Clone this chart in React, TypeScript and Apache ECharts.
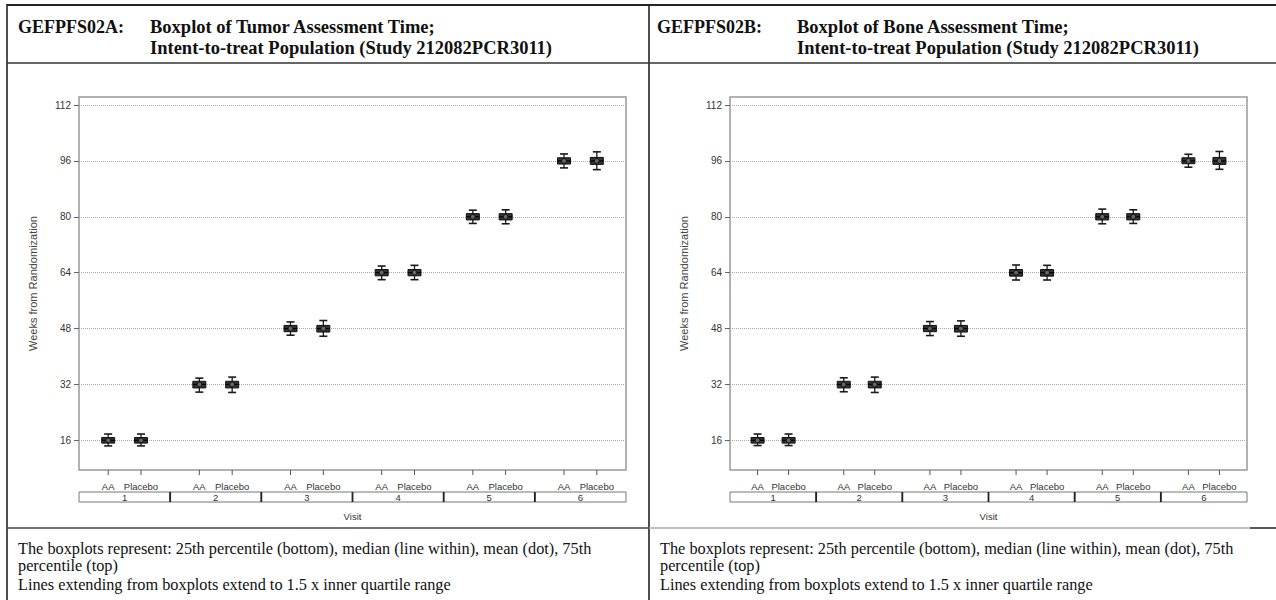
import React, { useEffect, useRef } from 'react';
import * as echarts from 'echarts';

const visits = ['1', '2', '3', '4', '5', '6'];
const arms = ['AA', 'Placebo'];
const yTicks = [16, 32, 48, 64, 80, 96, 112];

// [min whisker, Q1, median, Q3, max whisker, mean]
const tumorAA = [
  [14.4, 15.2, 16.0, 16.8, 17.8, 16.0],
  [29.8, 31.0, 32.0, 32.9, 33.8, 32.0],
  [46.1, 47.1, 48.0, 48.9, 49.9, 48.0],
  [62.0, 63.1, 64.0, 64.9, 65.9, 64.0],
  [78.1, 79.1, 80.0, 80.9, 81.9, 80.0],
  [94.0, 95.1, 96.0, 96.9, 98.0, 96.0],
];
const tumorPlacebo = [
  [14.4, 15.2, 16.0, 16.8, 17.8, 16.0],
  [29.7, 31.0, 32.0, 32.9, 34.1, 32.0],
  [45.8, 47.0, 48.0, 48.9, 50.3, 48.0],
  [62.0, 63.1, 64.0, 64.9, 66.1, 64.0],
  [78.0, 79.1, 80.0, 80.9, 82.0, 80.0],
  [93.5, 95.0, 96.0, 97.0, 98.6, 96.0],
];
const boneAA = [
  [14.5, 15.2, 16.0, 16.8, 17.8, 16.0],
  [29.9, 31.0, 32.0, 32.9, 33.9, 32.0],
  [46.0, 47.1, 48.0, 48.9, 50.0, 48.0],
  [61.9, 63.0, 64.0, 64.9, 66.2, 64.0],
  [78.0, 79.1, 80.0, 80.9, 82.2, 80.0],
  [94.2, 95.2, 96.0, 96.9, 97.9, 96.0],
];
const bonePlacebo = [
  [14.5, 15.2, 16.0, 16.8, 17.8, 16.0],
  [29.7, 31.0, 32.0, 32.9, 34.1, 32.0],
  [45.8, 47.0, 48.0, 48.9, 50.2, 48.0],
  [61.9, 63.0, 64.0, 64.9, 66.1, 64.0],
  [78.1, 79.1, 80.0, 80.9, 82.0, 80.0],
  [93.6, 95.0, 96.0, 97.0, 98.7, 96.0],
];

const armOffsets = [-0.18, 0.18];

const headers = [
  { code: 'GEFPFS02A:', line1: 'Boxplot of Tumor Assessment Time;', line2: 'Intent-to-treat Population (Study 212082PCR3011)', x: 18, tx: 150 },
  { code: 'GEFPFS02B:', line1: 'Boxplot of Bone Assessment Time;', line2: 'Intent-to-treat Population (Study 212082PCR3011)', x: 657, tx: 797 },
];
const footLines = [
  'The boxplots represent: 25th percentile (bottom), median (line within), mean (dot), 75th',
  'percentile (top)',
  'Lines extending from boxplots extend to 1.5 x inner quartile range',
];

const SANS = '"Liberation Sans", Arial, sans-serif';
const SERIF = '"Liberation Serif", "Times New Roman", serif';

function boxSeries(name: string, data: number[][], g: number, off: number) {
  return {
    type: 'custom',
    name,
    xAxisIndex: g,
    yAxisIndex: g,
    z: 10,
    silent: true,
    data: data.map((d, i) => [i, ...d]),
    encode: { x: 0, y: [1, 2, 3, 4, 5, 6] },
    renderItem: (params: any, api: any) => {
      const i = api.value(0);
      const band = api.size([1, 0])[0];
      const cx = api.coord([i, api.value(3)])[0] + off * band;
      const y = (k: number) => api.coord([i, api.value(k)])[1];
      const yMin = y(1), yQ1 = y(2), yMed = y(3), yQ3 = y(4), yMax = y(5), yMean = y(6);
      const bw = 13, cw = 8;
      const ln = { stroke: '#1a1a1a', lineWidth: 1.3 };
      return {
        type: 'group',
        children: [
          { type: 'line', shape: { x1: cx, y1: yMax, x2: cx, y2: yQ3 }, style: ln },
          { type: 'line', shape: { x1: cx, y1: yQ1, x2: cx, y2: yMin }, style: ln },
          { type: 'line', shape: { x1: cx - cw / 2, y1: yMax, x2: cx + cw / 2, y2: yMax }, style: { stroke: '#1a1a1a', lineWidth: 1.6 } },
          { type: 'line', shape: { x1: cx - cw / 2, y1: yMin, x2: cx + cw / 2, y2: yMin }, style: { stroke: '#1a1a1a', lineWidth: 1.6 } },
          { type: 'rect', shape: { x: cx - bw / 2, y: yQ3, width: bw, height: yQ1 - yQ3 }, style: { fill: '#333', stroke: '#111', lineWidth: 1 } },
          { type: 'line', shape: { x1: cx - bw / 2, y1: yMed, x2: cx + bw / 2, y2: yMed }, style: { stroke: '#000', lineWidth: 1.2 } },
          { type: 'circle', shape: { cx, cy: yMean, r: 2.4 }, style: { fill: '#666', stroke: '#111', lineWidth: 1 } },
        ],
      };
    },
  };
}

function rowSeries(g: number) {
  return {
    type: 'custom',
    xAxisIndex: g,
    yAxisIndex: g,
    silent: true,
    z: 5,
    data: visits.map((v, i) => [i, 16]),
    encode: { x: 0, y: 1 },
    renderItem: (params: any, api: any) => {
      const i = api.value(0);
      const band = api.size([1, 0])[0];
      const cx = api.coord([i, 16])[0];
      const cs = params.coordSys;
      const bottom = cs.y + cs.height;
      const children: any[] = [];
      arms.forEach((a, k) => {
        const x = cx + armOffsets[k] * band;
        children.push({ type: 'line', shape: { x1: x, y1: bottom, x2: x, y2: bottom + 5 }, style: { stroke: '#555', lineWidth: 1 } });
        children.push({
          type: 'text',
          style: { text: a, x, y: bottom + 16, textAlign: 'center', textVerticalAlign: 'middle', font: `9.5px ${SANS}`, fill: '#333' },
        });
      });
      const top = bottom + 22;
      const h = 10;
      children.push({ type: 'rect', shape: { x: cx - band / 2, y: top, width: band, height: h }, style: { fill: 'none', stroke: '#777', lineWidth: 1 } });
      if (i > 0) {
        children.push({ type: 'line', shape: { x1: cx - band / 2, y1: top, x2: cx - band / 2, y2: top + h }, style: { stroke: '#222', lineWidth: 1.8 } });
      }
      children.push({
        type: 'text',
        style: { text: visits[i], x: cx, y: top + h / 2 + 0.5, textAlign: 'center', textVerticalAlign: 'middle', font: `9.5px ${SANS}`, fill: '#333' },
      });
      return { type: 'group', children };
    },
  };
}

function makeAxes(g: number) {
  return {
    x: {
      type: 'category',
      gridIndex: g,
      data: visits,
      axisLine: { show: false },
      axisTick: { show: false },
      axisLabel: { show: false },
      splitLine: { show: false },
      name: 'Visit',
      nameLocation: 'middle',
      nameGap: 41,
      nameTextStyle: { fontSize: 9.5, color: '#333', fontFamily: SANS },
    },
    y: {
      type: 'value',
      gridIndex: g,
      min: 7.5,
      max: 114.3,
      axisLine: { show: false },
      axisTick: { show: true, length: 5, lineStyle: { color: '#666' }, customValues: yTicks },
      axisLabel: { customValues: yTicks, fontSize: 10, color: '#333', fontFamily: SANS, margin: 8 },
      splitLine: { show: true, lineStyle: { type: 'dotted', color: '#aaa', width: 1 } },
      name: 'Weeks from Randomization',
      nameLocation: 'middle',
      nameGap: 41,
      nameTextStyle: { fontSize: 11, color: '#444', fontFamily: SANS },
    },
  };
}

export default function App() {
  const ref = useRef<HTMLDivElement>(null);
  useEffect(() => {
    if (!ref.current) return;
    const chart = echarts.init(ref.current, undefined, { renderer: 'svg' });
    const a0 = makeAxes(0);
    const a1 = makeAxes(1);
    const graphic: any[] = [
      { type: 'line', shape: { x1: 7, y1: 5, x2: 1276, y2: 5 }, style: { stroke: '#222', lineWidth: 2.2 } },
      { type: 'line', shape: { x1: 7, y1: 4, x2: 7, y2: 600 }, style: { stroke: '#222', lineWidth: 1.6 } },
      { type: 'line', shape: { x1: 649, y1: 4, x2: 649, y2: 600 }, style: { stroke: '#222', lineWidth: 1.6 } },
      { type: 'line', shape: { x1: 7, y1: 63, x2: 1276, y2: 63 }, style: { stroke: '#333', lineWidth: 1.5 } },
      { type: 'line', shape: { x1: 7, y1: 528, x2: 649, y2: 528 }, style: { stroke: '#444', lineWidth: 1.5 } },
      { type: 'line', shape: { x1: 649, y1: 528, x2: 1250, y2: 528 }, style: { stroke: '#aaa', lineWidth: 1.5 } },
      { type: 'line', shape: { x1: 1250, y1: 528, x2: 1276, y2: 528 }, style: { stroke: '#222', lineWidth: 1.5 } },
    ];
    headers.forEach((h) => {
      graphic.push({ type: 'text', style: { text: h.code, x: h.x, y: 27, textVerticalAlign: 'middle', font: `bold 18px ${SERIF}`, fill: '#111' } });
      graphic.push({ type: 'text', style: { text: h.line1, x: h.tx, y: 27, textVerticalAlign: 'middle', font: `bold 18.5px ${SERIF}`, fill: '#111' } });
      graphic.push({ type: 'text', style: { text: h.line2, x: h.tx, y: 48, textVerticalAlign: 'middle', font: `bold 18.5px ${SERIF}`, fill: '#111' } });
    });
    [18, 660].forEach((fx) => {
      const ys = [548, 565, 584];
      footLines.forEach((t, k) => {
        graphic.push({ type: 'text', style: { text: t, x: fx, y: ys[k], textVerticalAlign: 'middle', font: `16.3px ${SERIF}`, fill: '#111' } });
      });
    });

    chart.setOption({
      animation: false,
      backgroundColor: '#fff',
      grid: [
        { left: 79, top: 97, width: 547, height: 373, show: true, borderColor: '#999', borderWidth: 1.5, backgroundColor: 'transparent' },
        { left: 730, top: 97, width: 517, height: 373, show: true, borderColor: '#999', borderWidth: 1.5, backgroundColor: 'transparent' },
      ],
      xAxis: [a0.x, a1.x],
      yAxis: [a0.y, a1.y],
      series: [
        boxSeries('AA', tumorAA, 0, armOffsets[0]),
        boxSeries('Placebo', tumorPlacebo, 0, armOffsets[1]),
        boxSeries('AA', boneAA, 1, armOffsets[0]),
        boxSeries('Placebo', bonePlacebo, 1, armOffsets[1]),
        rowSeries(0),
        rowSeries(1),
      ],
      graphic,
    });
    return () => chart.dispose();
  }, []);
  return <div ref={ref} style={{ position: 'fixed', left: 0, top: 0, width: 1276, height: 600 }} />;
}
